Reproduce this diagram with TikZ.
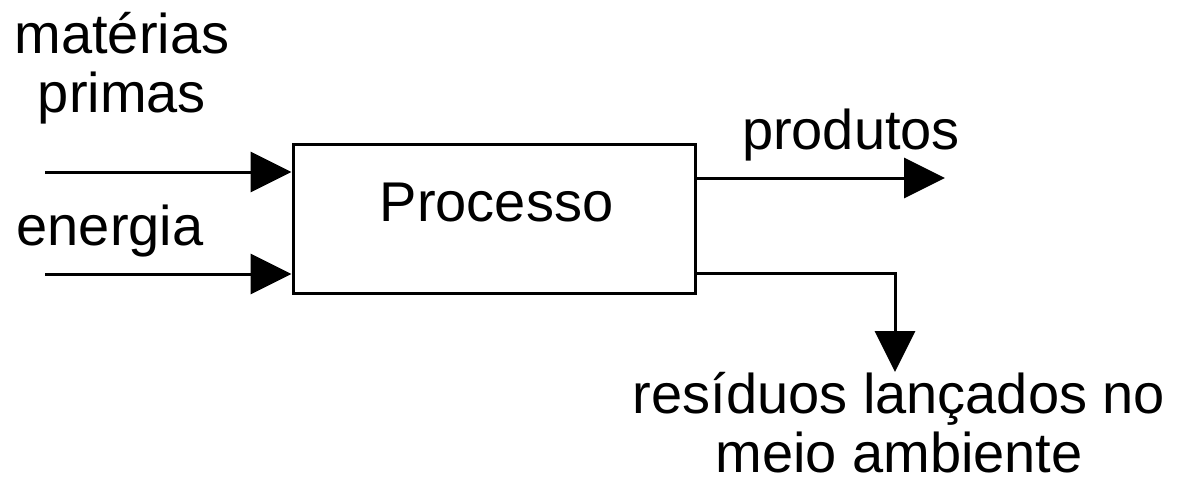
\documentclass[tikz,border=0pt]{standalone}
\usepackage{fontspec}
\setmainfont{Liberation Sans}
\usetikzlibrary{arrows.meta,positioning}
\begin{document}
\begin{tikzpicture}[x=0.5pt,y=-0.5pt,
    every node/.style={font=\fontsize{28}{29.5}\selectfont, inner sep=0pt},
    flow/.style={line width=1.5pt, -{Triangle[length=20.5pt,width=20pt]}},
    procbox/.style={draw, line width=1.5pt, minimum width=201pt, minimum height=74.5pt}]
    \useasboundingbox (0,0) rectangle (1183,482);

    \node (proc) [procbox] at (494,218.5) {};
    \node (proctext) [anchor=base] at (496.5,221) {Processo};

    % base anchor sits on the last line
    \node (raw) [align=center, anchor=base] at (122,112) {matérias\\primas};
    \node (energy) [anchor=base] at (110,245) {energia};
    \node (prod) [anchor=base] at (851,149) {produtos};
    \node (waste) [align=center, anchor=base] at (899,472) {resíduos lançados no\\meio ambiente};

    \coordinate (in1) at (45,172);
    \coordinate (in2) at (45,274);
    \coordinate (out1) at (945,178);
    \coordinate (bend) at (895,273);
    \coordinate (out2) at (895,372);

    \draw[flow] (in1) -- (in1 -| proc.west);
    \draw[flow] (in2) -- (in2 -| proc.west);
    \draw[flow] (proc.east |- out1) -- (out1);
    \draw[flow] (proc.east |- bend) -- (bend) -- (out2);

\end{tikzpicture}
\end{document}
